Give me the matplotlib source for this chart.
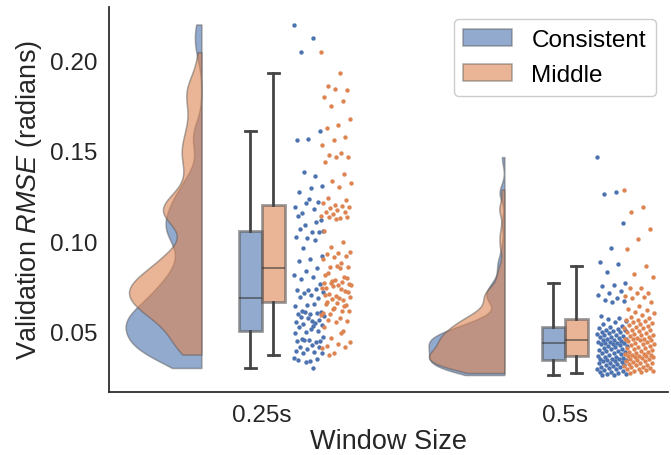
import numpy as np
import matplotlib.pyplot as plt
from matplotlib.colors import to_rgba
from matplotlib.patches import Patch

plt.rcParams['font.family'] = ['Liberation Sans', 'DejaVu Sans']
plt.rcParams['mathtext.fontset'] = 'custom'
plt.rcParams['mathtext.rm'] = 'Liberation Sans'
plt.rcParams['mathtext.it'] = 'Liberation Sans:italic'

windows = ['0.25s', '0.5s']
groups = ['Consistent', 'Middle']
colors = ['#4C72B0', '#DD8452']

# validation RMSE per run
consistent_025 = [
    0.2200, 0.2125, 0.2050, 0.1610, 0.1567, 0.1558, 0.1362, 0.1384, 0.1308, 0.1296, 0.1272,
    0.1216, 0.1213, 0.1189, 0.1180, 0.1156, 0.1120, 0.1235, 0.1142, 0.1106, 0.1090,
    0.1059, 0.1054, 0.1069, 0.1050, 0.1020, 0.1024, 0.1009, 0.0962, 0.0921, 0.0903, 0.0889,
    0.0852, 0.0838, 0.0814, 0.0801, 0.0792, 0.0765, 0.0731, 0.0728, 0.0735, 0.0714, 0.0718, 0.0705,
    0.0694, 0.0685, 0.0650, 0.0644, 0.0653, 0.0612,
    0.0607, 0.0598, 0.0600, 0.0602, 0.0609, 0.0585, 0.0558,
    0.0580, 0.0565, 0.0574, 0.0555, 0.0548, 0.0543,
    0.0537, 0.0515, 0.0524, 0.0506, 0.0497, 0.0493, 0.0530,
    0.0460, 0.0447, 0.0452, 0.0449, 0.0441, 0.0455, 0.0469, 0.0428,
    0.0414, 0.0416, 0.0404, 0.0395, 0.0389, 0.0382,
    0.0384, 0.0339, 0.0345, 0.0347, 0.0331, 0.0353, 0.0299,
]
middle_025 = [
    0.2047, 0.1929, 0.1862, 0.1840, 0.1844, 0.1801, 0.1779, 0.1750, 0.1676, 0.1641, 0.1628,
    0.1576, 0.1558, 0.1535, 0.1489, 0.1480, 0.1467, 0.1466, 0.1438, 0.1373, 0.1336, 0.1323, 0.1300,
    0.1240, 0.1228, 0.1203, 0.1213, 0.1198, 0.1185, 0.1189, 0.1176, 0.1161, 0.1164, 0.1152,
    0.1142, 0.1130, 0.1133, 0.1136, 0.1124, 0.1059, 0.0998, 0.0969,
    0.0940, 0.0934, 0.0931, 0.0921, 0.0912, 0.0903, 0.0879, 0.0857, 0.0860,
    0.0866, 0.0814, 0.0801, 0.0782, 0.0759, 0.0853, 0.0822, 0.0795, 0.0788, 0.0770,
    0.0774, 0.0768, 0.0764, 0.0756, 0.0744, 0.0724, 0.0751, 0.0740, 0.0735, 0.0710,
    0.0718, 0.0699, 0.0702, 0.0676, 0.0679, 0.0690, 0.0685, 0.0663, 0.0648, 0.0630, 0.0604, 0.0616,
    0.0598, 0.0613, 0.0660, 0.0655, 0.0640, 0.0625, 0.0590, 0.0575,
    0.0566, 0.0561, 0.0552, 0.0528, 0.0506, 0.0465, 0.0441, 0.0432, 0.0422, 0.0414, 0.0382,
    0.0410, 0.0491, 0.0373,
]
consistent_05 = [
    0.1466, 0.1275, 0.1262, 0.1100, 0.0965, 0.0884, 0.0875, 0.0832, 0.0771, 0.0759, 0.0755,
    0.0724, 0.0713, 0.0703, 0.0685, 0.0676, 0.0672, 0.0666, 0.0589, 0.0574, 0.0571, 0.0561,
    0.0552, 0.0541, 0.0533,
    0.0524, 0.0519, 0.0516, 0.0511, 0.0509, 0.0503, 0.0498, 0.0496, 0.0492, 0.0486, 0.0483,
    0.0481, 0.0477, 0.0472, 0.0469, 0.0466, 0.0461, 0.0458, 0.0455, 0.0452, 0.0447, 0.0445,
    0.0442, 0.0439, 0.0438, 0.0436,
    0.0433, 0.0430, 0.0427, 0.0421, 0.0418, 0.0414, 0.0409, 0.0405, 0.0402, 0.0398, 0.0394,
    0.0391, 0.0386, 0.0383, 0.0379, 0.0374, 0.0371, 0.0366, 0.0362, 0.0358, 0.0355, 0.0351,
    0.0348, 0.0346, 0.0344,
    0.0341, 0.0338, 0.0336, 0.0333, 0.0329, 0.0325, 0.0322, 0.0318, 0.0315, 0.0311, 0.0306,
    0.0302, 0.0299, 0.0294, 0.0291, 0.0287, 0.0284, 0.0279, 0.0276, 0.0272, 0.0268, 0.0265,
    0.0262, 0.0260,
]
middle_05 = [
    0.1286, 0.1192, 0.1163, 0.1066, 0.1010, 0.0959, 0.0866, 0.0819, 0.0801, 0.0742, 0.0740,
    0.0714, 0.0713, 0.0696, 0.0690, 0.0685, 0.0666, 0.0642, 0.0627, 0.0619, 0.0610, 0.0601,
    0.0592, 0.0583, 0.0574, 0.0566,
    0.0562, 0.0557, 0.0553, 0.0548, 0.0542, 0.0538, 0.0531, 0.0527, 0.0522, 0.0518, 0.0511,
    0.0507, 0.0502, 0.0497, 0.0493, 0.0488, 0.0483, 0.0479, 0.0474, 0.0470, 0.0466, 0.0462,
    0.0459, 0.0457, 0.0455,
    0.0451, 0.0447, 0.0443, 0.0438, 0.0434, 0.0429, 0.0425, 0.0421, 0.0416, 0.0412, 0.0407,
    0.0403, 0.0398, 0.0394, 0.0389, 0.0385, 0.0381, 0.0378, 0.0374, 0.0371, 0.0368, 0.0366,
    0.0364, 0.0363, 0.0361,
    0.0358, 0.0354, 0.0350, 0.0347, 0.0343, 0.0339, 0.0335, 0.0332, 0.0328, 0.0325, 0.0321,
    0.0317, 0.0314, 0.0310, 0.0306, 0.0303, 0.0299, 0.0295, 0.0292, 0.0288, 0.0284, 0.0280,
    0.0276, 0.0271,
]

rmse = {
    '0.25s': [consistent_025, middle_025],
    '0.5s': [consistent_05, middle_05],
}


def kde(vals, bw=0.2, n=300):
    v = np.asarray(vals)
    h = bw * v.std(ddof=1)
    grid = np.linspace(v.min(), v.max(), n)
    z = (grid[:, None] - v[None, :]) / h
    dens = np.exp(-0.5 * z ** 2).sum(1) / (len(v) * h * np.sqrt(2 * np.pi))
    return grid, dens


fig = plt.figure(figsize=(6.71, 4.56), dpi=100)
ax = fig.add_axes([0.1624, 0.1382, 0.8331, 0.8443])

edge = (0.35, 0.35, 0.35, 0.5)
for i, w in enumerate(windows):
    sets = rmse[w]

    # half violins on the left
    kdes = [kde(s) for s in sets]
    peak = max(d.max() for _, d in kdes)
    right = i - 0.2
    for j, (grid, dens) in enumerate(kdes):
        ax.fill_betweenx(grid, right - dens / peak * 0.25, right,
                         facecolor=to_rgba(colors[j], 0.6), edgecolor=edge,
                         linewidth=1.1, zorder=2)

    # boxes in the middle
    bp = ax.boxplot(sets, positions=[i - 0.038, i + 0.038], widths=0.076,
                    patch_artist=True, showfliers=False, whis=1.5, manage_ticks=False,
                    whiskerprops=dict(color='0.27', linewidth=2),
                    capprops=dict(color='0.27', linewidth=2),
                    medianprops=dict(color=(0.2, 0.2, 0.2, 0.6), linewidth=1.3),
                    zorder=3)
    for j, box in enumerate(bp['boxes']):
        box.set_facecolor(to_rgba(colors[j], 0.6))
        box.set_edgecolor((0.35, 0.35, 0.35, 0.6))
        box.set_linewidth(2)

    # jittered raw points on the right
    for j, s in enumerate(sets):
        jit = ((np.arange(len(s)) * 0.618034) % 1 - 0.5) * 0.1
        ax.scatter(i + [0.155, 0.245][j] + jit, s, s=10, color=colors[j],
                   linewidths=0, zorder=4)

ax.set_xlim(-0.505, 1.34)
ax.set_ylim(0.0166, 0.2297)
ax.set_xticks(range(len(windows)))
ax.set_xticklabels(windows)
ax.set_yticks([0.05, 0.10, 0.15, 0.20])
ax.set_yticklabels(['0.05', '0.10', '0.15', '0.20'])
ax.tick_params(length=0, pad=8.5, labelsize=17.5, labelcolor='0.15')
for side in ['top', 'right']:
    ax.spines[side].set_visible(False)
for side in ['left', 'bottom']:
    ax.spines[side].set_color('0.15')
    ax.spines[side].set_linewidth(1.25)

ax.set_xlabel('Window Size', fontsize=19.5, color='0.15', labelpad=1.5)
ax.set_ylabel('Validation $\\mathit{RMSE}$ (radians)', fontsize=19.5, color='0.15')

handles = [Patch(facecolor=to_rgba(c, 0.6), edgecolor=edge, linewidth=1.1) for c in colors]
ax.legend(handles, groups, loc='upper right', fontsize=17.5, labelspacing=0.55,
          edgecolor='0.8', framealpha=1)

fig.savefig('out.png', dpi=100)
